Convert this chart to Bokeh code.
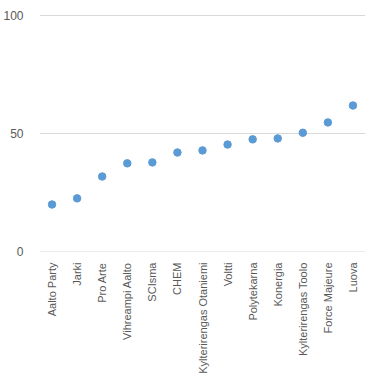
from bokeh.plotting import figure
from bokeh.models import Range1d, FixedTicker
from bokeh.embed import file_html
from bokeh.resources import INLINE
import math

categories = ["Aalto Party", "Jarki", "Pro Arte", "Vihreampi Aalto", "SCIsma", "CHEM",
              "Kylterirengas Otaniemi", "Voltti", "Polytekarna", "Konergia",
              "Kylterirengas Toolo", "Force Majeure", "Luova"]
values = [19.8, 22.4, 31.7, 37.3, 37.7, 41.9, 42.8, 45.3, 47.5, 47.9, 50.3, 54.7, 61.9]
y_ticks = [0, 50, 100]

p = figure(x_range=categories, y_range=Range1d(-0.2, 100.6),
           frame_width=326, frame_height=237,
           output_backend="svg", toolbar_location=None,
           min_border_left=38, min_border_right=14, min_border_top=14, min_border_bottom=128)
p.x_range.range_padding = 0
p.scatter(x=categories, y=values, size=7.5, color="#5b9bd5", line_color="#5b9bd5")

p.outline_line_color = None
p.xgrid.grid_line_color = None
p.ygrid.grid_line_color = "#d9d9d9"
p.ygrid.ticker = FixedTicker(ticks=y_ticks)

p.yaxis.ticker = FixedTicker(ticks=y_ticks)
p.yaxis.axis_line_color = None
p.yaxis.major_tick_line_color = None
p.yaxis.minor_tick_line_color = None
p.yaxis.major_label_standoff = 10
p.yaxis.major_label_text_color = "#595959"
p.yaxis.major_label_text_font = "Liberation Sans"
p.yaxis.major_label_text_font_size = "12px"

p.xaxis.axis_line_color = None
p.xaxis.major_tick_line_color = None
p.xaxis.minor_tick_line_color = None
p.xaxis.major_label_orientation = math.pi / 2
p.xaxis.major_label_standoff = 5
p.xaxis.major_label_text_color = "#595959"
p.xaxis.major_label_text_font = "Liberation Sans"
p.xaxis.major_label_text_font_size = "11px"

open("out.html", "w").write(file_html(p, INLINE))
